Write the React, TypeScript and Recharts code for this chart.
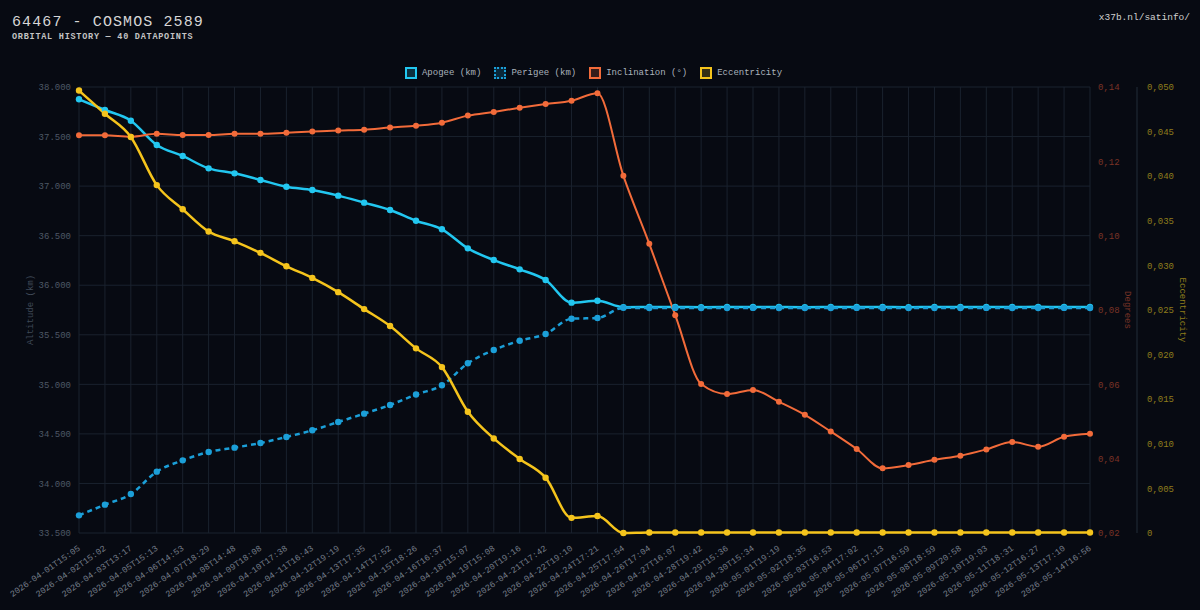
import { LineChart, Line, XAxis, YAxis, CartesianGrid } from 'recharts'

const MONO = '"Liberation Mono", "DejaVu Sans Mono", monospace'
const BG = '#070a12'
const GRID = '#1a222e'

const APO = '#22c7f0'
const PER = '#1b9fd8'
const INC = '#f26b3a'
const ECC = '#f5c41c'

const labels = [
  '2026-04-01T15:05', '2026-04-02T15:02', '2026-04-03T13:17', '2026-04-05T15:13',
  '2026-04-06T14:53', '2026-04-07T18:29', '2026-04-08T14:48', '2026-04-09T18:08',
  '2026-04-10T17:38', '2026-04-11T16:43', '2026-04-12T19:19', '2026-04-13T17:35',
  '2026-04-14T17:52', '2026-04-15T18:26', '2026-04-16T16:37', '2026-04-18T15:07',
  '2026-04-19T15:08', '2026-04-20T19:16', '2026-04-21T17:42', '2026-04-22T19:10',
  '2026-04-24T17:21', '2026-04-25T17:54', '2026-04-26T17:04', '2026-04-27T16:07',
  '2026-04-28T19:42', '2026-04-29T15:36', '2026-04-30T15:34', '2026-05-01T19:19',
  '2026-05-02T18:35', '2026-05-03T16:53', '2026-05-04T17:02', '2026-05-06T17:13',
  '2026-05-07T16:59', '2026-05-08T18:59', '2026-05-09T20:58', '2026-05-10T19:03',
  '2026-05-11T18:31', '2026-05-12T16:27', '2026-05-13T17:10', '2026-05-14T16:56',
]

const apogee = [
  37876, 37768, 37660, 37415, 37304, 37179, 37129, 37062, 36994, 36961,
  36904, 36833, 36759, 36650, 36564, 36372, 36254, 36160, 36053, 35824,
  35844, 35779, 35780, 35781, 35779, 35780, 35781, 35780, 35779, 35780,
  35781, 35780, 35779, 35780, 35780, 35781, 35780, 35782, 35780, 35780,
]

const perigee = [
  33678, 33786, 33893, 34119, 34233, 34317, 34361, 34408, 34469, 34536,
  34620, 34704, 34792, 34897, 34990, 35212, 35346, 35440, 35508, 35662,
  35669, 35772, 35770, 35771, 35769, 35770, 35771, 35770, 35769, 35770,
  35771, 35770, 35769, 35770, 35770, 35771, 35770, 35770, 35771, 35770,
]

const inclination = [
  0.1270, 0.1270, 0.1266, 0.1274, 0.1271, 0.1271, 0.1274, 0.1274, 0.1277, 0.1280,
  0.1283, 0.1285, 0.1291, 0.1296, 0.1304, 0.1323, 0.1333, 0.1344, 0.1354, 0.1363,
  0.1383, 0.1161, 0.0978, 0.0786, 0.0601, 0.0574, 0.0585, 0.0553, 0.0518, 0.0473,
  0.0426, 0.0374, 0.0383, 0.0397, 0.0408, 0.0425, 0.0445, 0.0432, 0.0459, 0.0467,
]

const eccentricity = [
  0.0496, 0.0470, 0.0444, 0.0390, 0.0363, 0.0338, 0.0327, 0.0314, 0.0299, 0.0286,
  0.0270, 0.0251, 0.0232, 0.0207, 0.0186, 0.0136, 0.0106, 0.0083, 0.0062, 0.0017,
  0.0019, 0.0000, 0.00005, 0.00005, 0.00005, 0.00005, 0.00005, 0.00005, 0.00005, 0.00005,
  0.00005, 0.00005, 0.00005, 0.00005, 0.00005, 0.00005, 0.00005, 0.00005, 0.00005, 0.00005,
]

const altTicks = [33500, 34000, 34500, 35000, 35500, 36000, 36500, 37000, 37500, 38000]
const degTicks = [0.02, 0.04, 0.06, 0.08, 0.1, 0.12, 0.14]
const eccTicks = [0, 0.005, 0.01, 0.015, 0.02, 0.025, 0.03, 0.035, 0.04, 0.045, 0.05]

const legendItems = [
  { name: 'Apogee (km)', color: APO, dashed: false },
  { name: 'Perigee (km)', color: PER, dashed: true },
  { name: 'Inclination (°)', color: INC, dashed: false },
  { name: 'Eccentricity', color: ECC, dashed: false },
]

const data = labels.map((t, i) => ({
  t,
  apogee: apogee[i],
  perigee: perigee[i],
  inc: inclination[i],
  ecc: eccentricity[i],
}))

const fmtAlt = (v: number) => `${Math.floor(v / 1000)}.${String(v % 1000).padStart(3, '0')}`
const fmtDeg = (v: number) => v.toFixed(2).replace('.', ',')
const fmtEcc = (v: number) => (v === 0 ? '0' : v.toFixed(3).replace('.', ','))

// rotated date labels, text end sits just under the tick
const DateTick = (props: any) => {
  const { x, y, payload } = props
  return (
    <g transform={`translate(${x},${y + 6}) rotate(-35)`}>
      <text x={0} y={0} dy={3} textAnchor="end" fill="#747c88" fontSize={8.7} fontFamily={MONO}>
        {payload.value}
      </text>
    </g>
  )
}

function Legend() {
  return (
    <div style={{
      position: 'absolute', top: 67, left: 0, width: 1200,
      display: 'flex', justifyContent: 'center', alignItems: 'center',
      fontFamily: MONO, fontSize: 9, color: '#aab2bc',
    }}>
      {legendItems.map((it) => (
        <div key={it.name} style={{ display: 'flex', alignItems: 'center', marginRight: 13 }}>
          <span style={{
            width: 8, height: 8,
            border: `2px ${it.dashed ? 'dotted' : 'solid'} ${it.color}`,
            background: it.color + '33',
            marginRight: 5,
            display: 'inline-block',
          }} />
          <span>{it.name}</span>
        </div>
      ))}
    </div>
  )
}

export default function App() {
  return (
    <div style={{ position: 'absolute', left: 0, top: 0, width: 1200, height: 610, background: BG, overflow: 'hidden' }}>
      <div style={{ position: 'absolute', left: 12, top: 14, fontFamily: MONO, fontSize: 15, letterSpacing: 1.1, color: '#d6d6d6' }}>
        64467 - COSMOS 2589
      </div>
      <div style={{ position: 'absolute', left: 12, top: 32, fontFamily: MONO, fontSize: 8.5, fontWeight: 'bold', letterSpacing: 0.75, color: '#c4c4c4' }}>
        ORBITAL HISTORY — 40 DATAPOINTS
      </div>
      <div style={{ position: 'absolute', right: 10, top: 12, fontFamily: MONO, fontSize: 9.5, color: '#d0d0d0' }}>
        x37b.nl/satinfo/
      </div>
      <Legend />
      <LineChart width={1200} height={610} data={data} margin={{ top: 87, right: 5, bottom: 0, left: 0 }}>
        <CartesianGrid stroke={GRID} strokeWidth={1} />
        <XAxis
          dataKey="t"
          interval={0}
          height={77}
          tick={<DateTick />}
          tickLine={false}
          axisLine={false}
        />
        <YAxis
          width={79}
          domain={[33500, 38000]}
          ticks={altTicks}
          tickFormatter={fmtAlt}
          tick={{ fill: '#4e5866', fontSize: 9, fontFamily: MONO }}
          tickLine={false}
          axisLine={false}
          label={{ value: 'Altitude (km)', angle: -90, position: 'insideLeft', offset: 30, style: { textAnchor: 'middle', fill: '#3f4957', fontSize: 9, fontFamily: MONO } }}
        />
        <YAxis
          yAxisId="deg"
          orientation="right"
          width={47}
          domain={[0.02, 0.14]}
          ticks={degTicks}
          tickFormatter={fmtDeg}
          tick={{ fill: '#7a3326', fontSize: 9, fontFamily: MONO }}
          tickLine={false}
          axisLine={false}
          label={{ value: 'Degrees', angle: 90, position: 'insideRight', offset: 9, style: { textAnchor: 'middle', fill: '#7a3326', fontSize: 9, fontFamily: MONO } }}
        />
        <YAxis
          yAxisId="ecc"
          orientation="right"
          width={58}
          domain={[0, 0.05]}
          ticks={eccTicks}
          tickFormatter={fmtEcc}
          tick={{ fill: '#8f7d1c', fontSize: 9, fontFamily: MONO }}
          tickLine={false}
          tickMargin={4}
          axisLine={{ stroke: '#222c38' }}
          label={{ value: 'Eccentricity', angle: 90, position: 'insideRight', offset: 12, style: { textAnchor: 'middle', fill: '#8f7d1c', fontSize: 9, fontFamily: MONO } }}
        />
        <Line type="monotone" dataKey="apogee" name="Apogee (km)" stroke={APO} strokeWidth={2.5}
          dot={{ r: 3.2, fill: APO, stroke: APO, strokeWidth: 0 }} isAnimationActive={false} />
        <Line type="monotone" dataKey="perigee" name="Perigee (km)" stroke={PER} strokeWidth={2.5} strokeDasharray="5 4"
          dot={{ r: 3.2, fill: PER, stroke: PER, strokeWidth: 0, strokeDasharray: '' }} isAnimationActive={false} />
        <Line type="monotone" dataKey="inc" yAxisId="deg" name="Inclination (°)" stroke={INC} strokeWidth={2}
          dot={{ r: 3, fill: INC, stroke: INC, strokeWidth: 0 }} isAnimationActive={false} />
        <Line type="monotone" dataKey="ecc" yAxisId="ecc" name="Eccentricity" stroke={ECC} strokeWidth={2.5}
          dot={{ r: 3.2, fill: ECC, stroke: ECC, strokeWidth: 0 }} isAnimationActive={false} />
      </LineChart>
    </div>
  )
}
